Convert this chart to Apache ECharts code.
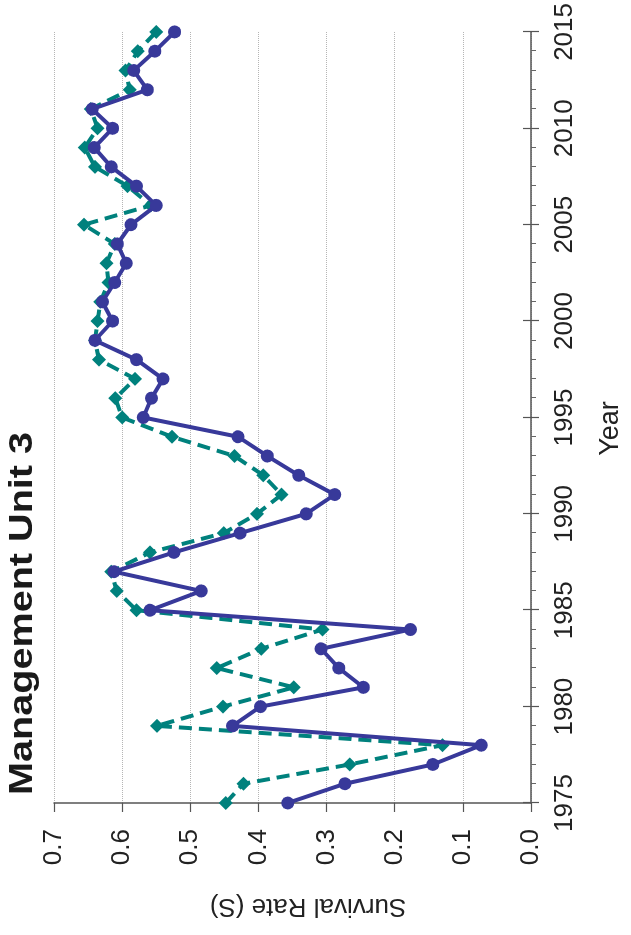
<!DOCTYPE html>
<html>
<head>
<meta charset="utf-8">
<title>Management Unit 3</title>
<script src="https://cdn.jsdelivr.net/npm/echarts@6/dist/echarts.min.js"></script>
<style>
    html, body { margin: 0; padding: 0; width: 631px; height: 935px; overflow: hidden; background: #fff; }
    /* chart is laid out landscape and turned a quarter left, like the original figure */
    #chart { position: absolute; left: 0; top: 0; width: 935px; height: 631px;
             transform-origin: 0 0; transform: translateY(935px) rotate(-90deg); }
</style>
</head>
<body>
<div id="chart"></div>
<script>
    var years = [1975, 1976, 1977, 1978, 1979, 1980, 1981, 1982, 1983, 1984,
                 1985, 1986, 1987, 1988, 1989, 1990, 1991, 1992, 1993, 1994,
                 1995, 1996, 1997, 1998, 1999, 2000, 2001, 2002, 2003, 2004,
                 2005, 2006, 2007, 2008, 2009, 2010, 2011, 2012, 2013, 2014, 2015];

    // solid purple line, round markers
    var solidRates = [0.357, 0.273, 0.144, 0.073, 0.438, 0.397, 0.246, 0.282, 0.308, 0.177,
                      0.559, 0.484, 0.612, 0.524, 0.427, 0.330, 0.288, 0.341, 0.387, 0.430,
                      0.569, 0.557, 0.540, 0.579, 0.640, 0.614, 0.629, 0.611, 0.594, 0.607,
                      0.587, 0.550, 0.579, 0.616, 0.641, 0.614, 0.644, 0.563, 0.583, 0.552, 0.523];

    // dashed teal line, diamond markers
    var dashedRates = [0.448, 0.422, 0.266, 0.130, 0.549, 0.452, 0.348, 0.461, 0.396, 0.306,
                       0.579, 0.608, 0.616, 0.559, 0.451, 0.402, 0.366, 0.393, 0.435, 0.527,
                       0.600, 0.610, 0.581, 0.634, 0.640, 0.636, 0.632, 0.620, 0.623, 0.611,
                       0.656, 0.558, 0.592, 0.640, 0.655, 0.636, 0.646, 0.589, 0.595, 0.577, 0.550];

    var yearRange = [1975, 2015];
    var rateRange = [0, 0.7];

    var font = '"Liberation Sans", Arial, Helvetica, sans-serif';

    function pairs(vals) {
        return years.map(function (y, i) { return [y, vals[i]]; });
    }

    var chart = echarts.init(document.getElementById('chart'));

    chart.setOption({
        animation: false,
        backgroundColor: '#fff',
        textStyle: { fontFamily: font },
        grid: { left: 132, right: 26, top: 54, bottom: 100, containLabel: false },
        graphic: [{
            type: 'text',
            x: 140,
            y: 6,
            scaleX: 1.2,
            style: {
                text: 'Management Unit 3',
                font: 'bold 33px ' + font,
                fill: '#1a1a1a',
                verticalAlign: 'top'
            }
        }],
        xAxis: [{
            type: 'value',
            min: yearRange[0],
            max: yearRange[1],
            interval: 5,
            axisLine: { show: true, lineStyle: { color: '#555', width: 1.5 } },
            axisTick: { show: true, length: 8, lineStyle: { color: '#555', width: 1.2 } },
            minorTick: { show: true, splitNumber: 5, length: 5, lineStyle: { color: '#666', width: 1 } },
            axisLabel: {
                fontSize: 26, color: '#222', margin: 21, fontFamily: font,
                formatter: function (v) { return String(v); }
            },
            splitLine: { show: false },
            name: 'Year',
            nameLocation: 'middle',
            nameGap: 66,
            nameTextStyle: { fontSize: 27, color: '#222', fontFamily: font, padding: [0, 22, 0, 0] }
        }, {
            // inner half of the major ticks, so they cross the axis
            type: 'value',
            position: 'bottom',
            min: yearRange[0],
            max: yearRange[1],
            interval: 5,
            axisLine: { show: false },
            axisTick: { show: true, inside: true, length: 8, lineStyle: { color: '#555', width: 1.2 } },
            axisLabel: { show: false },
            splitLine: { show: false }
        }],
        yAxis: {
            type: 'value',
            min: rateRange[0],
            max: rateRange[1],
            interval: 0.1,
            axisLine: { show: true, lineStyle: { color: '#555', width: 1.5 } },
            axisTick: { show: true, length: 9, lineStyle: { color: '#555', width: 1.2 } },
            axisLabel: {
                fontSize: 26, color: '#222', margin: 26, fontFamily: font,
                formatter: function (v) { return v.toFixed(1); }
            },
            splitLine: { show: true, lineStyle: { color: '#b5b5b5', type: 'dotted', width: 1 } },
            name: 'Survival Rate (S)',
            nameLocation: 'middle',
            nameGap: 90,
            nameTextStyle: { fontSize: 26, color: '#222', fontFamily: font, padding: [0, 31, 0, 0] }
        },
        series: [{
            name: 'Dashed',
            type: 'line',
            data: pairs(dashedRates),
            symbol: 'diamond',
            symbolSize: 14,
            itemStyle: { color: '#00817d' },
            lineStyle: { color: '#00817d', width: 4, type: [13, 7] },
            z: 2
        }, {
            name: 'Solid',
            type: 'line',
            data: pairs(solidRates),
            symbol: 'circle',
            symbolSize: 13,
            itemStyle: { color: '#38399a' },
            lineStyle: { color: '#38399a', width: 4 },
            z: 3
        }]
    });
</script>
</body>
</html>
